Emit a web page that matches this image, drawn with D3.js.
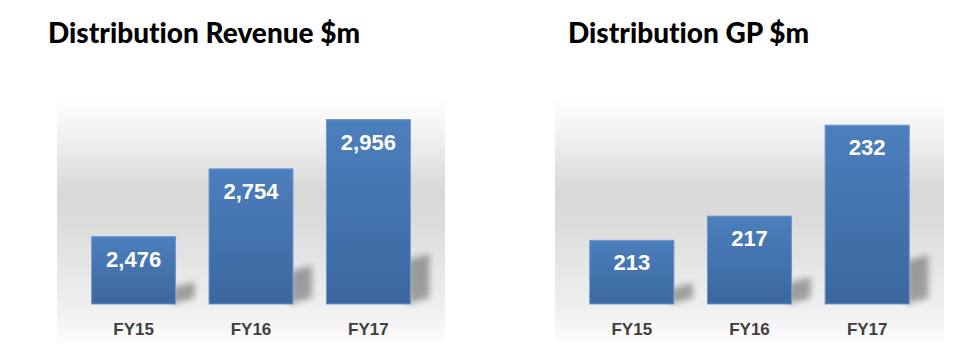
<!DOCTYPE html>
<html>
<head>
<meta charset="utf-8">
<script src="https://cdn.jsdelivr.net/npm/d3@7.9.0/dist/d3.min.js"></script>
<style>
  body { margin: 0; background: #fff; }
  svg { display: block; }
</style>
</head>
<body>
<svg id="chart" width="975" height="360"></svg>
<script>
// data
const years = ['FY15', 'FY16', 'FY17'];
const revenue = [2476, 2754, 2956];
const grossProfit = [213, 217, 232];

const svg = d3.select('#chart');
const defs = svg.append('defs');

// soft grey backdrop, darkest a bit above the middle
const bg = defs.append('linearGradient').attr('id', 'panelGrad')
  .attr('x1', 0).attr('y1', 0).attr('x2', 0).attr('y2', 1);
[[0, '#fdfdfd'], [0.12, '#f4f4f4'], [0.38, '#d8d8d8'], [0.5, '#dcdcdc'], [0.85, '#efefef'], [1, '#fcfcfc']]
  .forEach(([o, c]) => bg.append('stop').attr('offset', o).attr('stop-color', c));

const barGrad = defs.append('linearGradient').attr('id', 'barGrad')
  .attr('x1', 0).attr('y1', 0).attr('x2', 0).attr('y2', 1);
barGrad.append('stop').attr('offset', 0).attr('stop-color', '#4c7fbd');
barGrad.append('stop').attr('offset', 1).attr('stop-color', '#3b679e');

defs.append('filter').attr('id', 'blur')
  .attr('x', '-50%').attr('y', '-50%').attr('width', '200%').attr('height', '200%')
  .append('feGaussianBlur').attr('stdDeviation', 3);

const charts = [
  { title: 'Distribution Revenue $m', values: revenue, fmt: d3.format(','), left: 57, right: 445, titleX: 48, domain: [2200, 3020] },
  { title: 'Distribution GP $m', values: grossProfit, fmt: d3.format(','), left: 555, right: 944, titleX: 568, domain: [202.5, 235.5] }
];

const panelTop = 100, panelBottom = 343, baseY = 304, plotTop = 104;

charts.forEach(c => {
  const g = svg.append('g');

  g.append('rect')
    .attr('x', c.left).attr('y', panelTop)
    .attr('width', c.right - c.left).attr('height', panelBottom - panelTop)
    .attr('fill', 'url(#panelGrad)');

  g.append('text')
    .attr('x', c.titleX).attr('y', 43)
    .attr('font-family', 'Lato, "Open Sans", sans-serif')
    .attr('font-weight', 900)
    .attr('font-size', 28)
    .style('font-variant-ligatures', 'none')
    .attr('fill', '#000')
    .text(c.title);

  const x = d3.scaleBand().domain(years).range([c.left, c.right])
    .paddingInner(0.285).paddingOuter(0.295);
  const y = d3.scaleLinear().domain(c.domain).range([baseY, plotTop]);

  const rows = years.map((yr, i) => ({ yr, v: c.values[i] }));

  // cast shadows behind each bar
  g.selectAll('.shadow').data(rows).join('polygon')
    .attr('class', 'shadow')
    .attr('points', d => {
      const x1 = x(d.yr) + x.bandwidth();
      const h = baseY - y(d.v);
      const sh = h * 0.24;
      return [[x1 - 3, baseY], [x1 - 3, baseY - sh], [x1 + 19, baseY - sh - 6], [x1 + 19, baseY - 6]].join(' ');
    })
    .attr('fill', '#000')
    .attr('opacity', 0.33)
    .attr('filter', 'url(#blur)');

  g.selectAll('.bar').data(rows).join('rect')
    .attr('class', 'bar')
    .attr('x', d => x(d.yr))
    .attr('y', d => y(d.v))
    .attr('width', x.bandwidth())
    .attr('height', d => baseY - y(d.v))
    .attr('fill', 'url(#barGrad)')
    .attr('stroke', '#6f98cc')
    .attr('stroke-width', 1);

  g.selectAll('.val').data(rows).join('text')
    .attr('class', 'val')
    .attr('x', d => x(d.yr) + x.bandwidth() / 2)
    .attr('y', d => y(d.v) + 30)
    .attr('text-anchor', 'middle')
    .attr('font-family', '"Liberation Sans", Arial, sans-serif')
    .attr('font-weight', 'bold')
    .attr('font-size', 22)
    .attr('fill', '#fff')
    .text(d => c.fmt(d.v));

  g.selectAll('.cat').data(rows).join('text')
    .attr('class', 'cat')
    .attr('x', d => x(d.yr) + x.bandwidth() / 2)
    .attr('y', 335)
    .attr('text-anchor', 'middle')
    .attr('font-family', '"Liberation Sans", Arial, sans-serif')
    .attr('font-weight', 'bold')
    .attr('font-size', 17)
    .attr('fill', '#404040')
    .text(d => d.yr);
});
</script>
</body>
</html>
